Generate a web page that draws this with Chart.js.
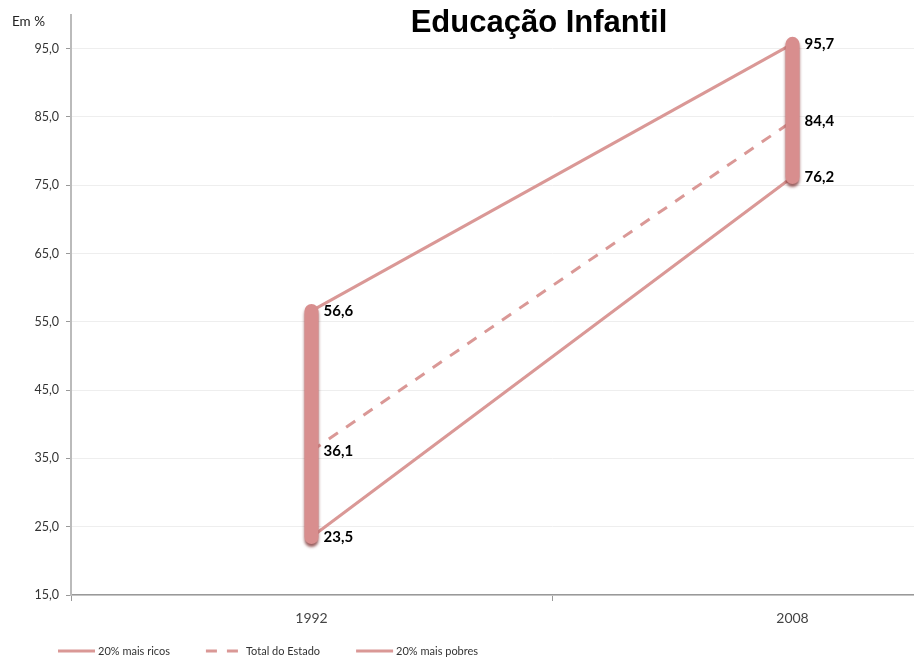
<!DOCTYPE html>
<html>
<head>
<meta charset="utf-8">
<script src="https://cdn.jsdelivr.net/npm/chart.js@4/dist/chart.umd.min.js"></script>
<style>
  html, body { margin: 0; padding: 0; background: #fff; overflow: hidden; }
  #wrap { width: 914px; height: 660px; overflow: hidden; }
  canvas { display: block; }
</style>
</head>
<body>
<div id="wrap"><canvas id="c" width="1040" height="660"></canvas></div>
<script>
// Categories and series (percent)
const years = ['1992', '2008'];
const richest = [56.6, 95.7];
const stateTotal = [36.1, 84.4];
const poorest = [23.5, 76.2];
const seriesNames = ['20% mais ricos', 'Total do Estado', '20% mais pobres'];
const yTicks = [15, 25, 35, 45, 55, 65, 75, 85, 95];

const lineColor = '#da9896';
const barColor = '#d88e8e';
const fmt = v => v.toFixed(1).replace('.', ',');

// high-low bar for each year, from the lowest to the highest series value
const hiLo = years.map((yr, i) => {
  const vals = [richest[i], stateTotal[i], poorest[i]];
  return {
    type: 'line',
    label: 'hl' + yr,
    isHiLo: true,
    data: [{ x: yr, y: Math.min(...vals) }, { x: yr, y: Math.max(...vals) }],
    borderColor: barColor,
    borderWidth: 14,
    borderCapStyle: 'round',
    pointRadius: 0,
    order: 0
  };
});

const series = [
  { label: seriesNames[0], data: richest, borderDash: [] },
  { label: seriesNames[1], data: stateTotal, borderDash: [11, 10] },
  { label: seriesNames[2], data: poorest, borderDash: [] }
].map(s => ({
  type: 'line',
  label: s.label,
  data: s.data,
  borderColor: lineColor,
  borderWidth: 3,
  borderDash: s.borderDash,
  pointRadius: 0,
  tension: 0,
  order: 1
}));

// soft drop shadow under the high-low bars
const shadowPlugin = {
  id: 'hiloShadow',
  beforeDatasetDraw(chart, args) {
    if (!chart.data.datasets[args.index].isHiLo) return;
    const ctx = chart.ctx;
    ctx.save();
    ctx.shadowColor = 'rgba(110,25,25,0.7)';
    ctx.shadowBlur = 3;
    ctx.shadowOffsetY = 3;
  },
  afterDatasetDraw(chart, args) {
    if (!chart.data.datasets[args.index].isHiLo) return;
    chart.ctx.restore();
  }
};

// value labels beside the bars
const valueLabels = {
  id: 'valueLabels',
  afterDatasetsDraw(chart) {
    const ctx = chart.ctx;
    ctx.save();
    ctx.font = 'bold 15px Lato, "Open Sans", sans-serif';
    ctx.fillStyle = '#000';
    ctx.textAlign = 'left';
    ctx.textBaseline = 'middle';
    chart.data.datasets.forEach((ds, di) => {
      if (ds.isHiLo) return;
      const meta = chart.getDatasetMeta(di);
      meta.data.forEach((pt, i) => {
        ctx.fillText(fmt(ds.data[i]), pt.x + 12, pt.y);
      });
    });
    ctx.restore();
  }
};

// title, unit caption and bottom legend
const decorations = {
  id: 'decorations',
  afterDraw(chart) {
    const ctx = chart.ctx;
    ctx.save();
    ctx.fillStyle = '#000';
    ctx.font = 'bold 31px "Liberation Sans", Arial, sans-serif';
    ctx.textAlign = 'center';
    ctx.textBaseline = 'middle';
    ctx.fillText('Educação Infantil', 539, 23);

    ctx.font = '13.5px Lato, "Open Sans", sans-serif';
    ctx.fillStyle = '#222';
    ctx.textAlign = 'left';
    ctx.fillText('Em %', 12, 22);

    ctx.font = '11px Lato, "Open Sans", sans-serif';
    ctx.fillStyle = '#333';
    let x = 58;
    const y = 651;
    chart.data.datasets.filter(d => !d.isHiLo).forEach(ds => {
      ctx.beginPath();
      ctx.strokeStyle = ds.borderColor;
      ctx.lineWidth = 3;
      ctx.setLineDash(ds.borderDash || []);
      ctx.moveTo(x, y);
      ctx.lineTo(x + 37, y);
      ctx.stroke();
      ctx.setLineDash([]);
      ctx.fillText(ds.label, x + 40, y);
      x += 40 + ctx.measureText(ds.label).width + 36;
    });
    ctx.restore();
  }
};

new Chart(document.getElementById('c'), {
  data: { labels: years, datasets: [...series, ...hiLo] },
  options: {
    responsive: false,
    animation: false,
    layout: { padding: { top: 12, right: 7, left: 0, bottom: 0 } },
    plugins: { legend: { display: false }, tooltip: { enabled: false } },
    scales: {
      x: {
        type: 'category',
        offset: true,
        grid: { drawOnChartArea: false, color: '#999', tickLength: 6, offset: true },
        border: { color: '#999', width: 1.5 },
        ticks: { color: '#444', font: { family: 'Lato, "Open Sans", sans-serif', size: 14 }, padding: 9 },
        afterFit(s) { s.height = 65; }
      },
      y: {
        min: 15,
        max: 100,
        grid: { color: '#eeeeee', tickLength: 5, tickColor: '#999' },
        border: { color: '#bbb', width: 2 },
        ticks: {
          stepSize: 10,
          color: '#333',
          font: { family: 'Lato, "Open Sans", sans-serif', size: 12.5 },
          padding: 7,
          callback: v => fmt(v)
        },
        afterBuildTicks(s) { s.ticks = yTicks.map(v => ({ value: v })); },
        afterFit(s) { s.width = 71; }
      }
    }
  },
  plugins: [shadowPlugin, valueLabels, decorations]
});
</script>
</body>
</html>
